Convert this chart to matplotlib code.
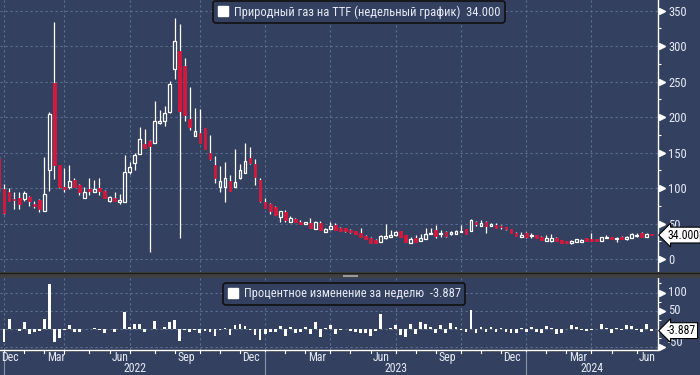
import numpy as np
import pandas as pd
import matplotlib
matplotlib.use("Agg")
import matplotlib.pyplot as plt
from matplotlib import font_manager
from matplotlib.patches import Rectangle, Patch
from matplotlib.lines import Line2D
from matplotlib.transforms import blended_transform_factory

# weekly candles (Friday dates), Dec 24 2021 .. Jun 21 2024
dates = pd.date_range("2021-12-24", "2024-06-21", freq="W-FRI")

opens = [141, 98.6, 94.8, 84, 86.4, 84.5, 87.8, 78.4, 83.6, 68.5, 125, 248, 133, 102, 102, 112, 105,
         86.9, 99, 95.3, 100, 96.2, 82.6, 86.4, 80.8, 81.2, 123.5, 135, 148, 162, 166, 163, 191.5,
         195, 206.6, 267.6, 293, 272, 197.7, 172.8, 177.5, 185, 149, 133, 102, 102, 110, 102, 114,
         122, 142, 134, 112, 81, 77.4, 74, 60, 67, 53, 56.8, 53, 49.2, 50.7, 42.2, 51.6, 39, 42.2,
         48.3, 43.6, 43.6, 41.3, 39.9, 37.5, 33.3, 30.5, 27.2, 24.8, 30.5, 31.9, 34.2, 39.9, 34.2,
         23.4, 29.5, 25.8, 28.1, 35.6, 41.3, 35.2, 39, 35.2, 35.2, 38.5, 42.2, 39.9, 53, 47.4, 53,
         47.4, 48.3, 47.4, 45, 42.7, 37.5, 31.9, 36.6, 32.5, 34.2, 31.9, 26.2, 26.2, 30.5, 27.2,
         25.8, 22.5, 24.8, 24.8, 29.5, 28.6, 28.1, 26.2, 30.5, 31, 28.5, 31.9, 28.6, 30.5, 32.8,
         36.6, 31.9, 35.6]
highs = [145, 106, 100, 94, 94, 96, 89, 82, 84.5, 144, 207, 334, 133, 129, 133, 114, 106,
         101, 114, 112, 114, 97.7, 89, 94.4, 91.5, 147, 136.6, 150, 186, 183, 168, 223, 210,
         216, 251, 339, 331, 283, 242, 212.7, 211, 185, 175, 145.5, 131, 136.6, 118.8, 155, 134,
         163, 158.7, 141, 114, 85.8, 78.8, 75, 68, 69.4, 61.5, 58.6, 55.3, 53, 58.6, 54.4, 54.4,
         44.6, 53, 50.7, 46, 43.6, 42.2, 40, 44.6, 34.2, 31.9, 28.1, 34.2, 49.7, 41.3, 39.9, 40,
         34.5, 31.9, 34.2, 35.6, 44.6, 44.6, 48.3, 41.3, 39.5, 39.5, 41.3, 48.3, 42.5, 56.7, 53.5,
         55.4, 54, 50.7, 50.7, 48.3, 45.5, 43, 37.8, 38.9, 38.9, 36.6, 34.6, 32.2, 34.2, 35.6,
         30.8, 27.5, 26, 26.5, 28.5, 28, 30, 37.5, 28.5, 31.8, 34.2, 31.5, 31.9, 32.5, 32.3, 36.6,
         36.6, 38.9, 37.5, 36]
lows = [95, 64, 82, 71, 71, 82, 75.6, 72.8, 66.7, 68.5, 96.7, 113, 100, 95, 98.6, 102, 90.6,
        86.9, 90.6, 94, 90.6, 86.9, 81, 82, 78, 81, 120, 125.8, 148, 157, 10.8, 163, 191,
        188, 206, 254, 30.5, 195, 182, 172.8, 164, 155, 140, 108, 94.4, 80.3, 96, 101, 112.7,
        121, 134, 105, 80, 72, 63.8, 62, 52, 52, 53, 52.5, 49, 49, 44, 42, 41,
        38.5, 42, 41, 40, 39, 36.6, 35, 31.9, 28.5, 23.2, 22.3, 24.6, 28.1, 31.5, 32.8, 31.5,
        24.6, 23.2, 24.6, 25.6, 28, 35.2, 30.5, 31.9, 31.9, 34.7, 35, 38, 35, 39.5, 46.9,
        47, 37.5, 47, 43.6, 42.7, 41.8, 37, 33, 31.5, 30.5, 29.5, 30, 27, 26, 24.8,
        25.8, 23, 22.9, 22, 24.5, 24.5, 26, 25.5, 25.5, 26, 29.5, 28, 24.8, 28, 27.2, 29.5,
        31.9, 31.5, 31.5, 33.5]
closes = [100, 65, 82.6, 83, 78.4, 93.9, 81.7, 75.6, 70.9, 91.5, 205, 133, 101, 98.6, 110, 102, 94,
          94.4, 96.2, 99, 96.2, 86.9, 88.3, 82.6, 83.6, 122.5, 129.6, 147, 169, 157, 160, 195, 195,
          205.6, 247, 307.5, 208, 203, 186, 180.8, 164, 155, 141, 114, 110, 114, 96.7, 109, 125,
          137.6, 136, 116, 82.6, 72.7, 68, 62.4, 68, 55.3, 58.6, 53, 49.2, 52, 44.6, 53, 41.3,
          42.2, 47, 41.3, 40.3, 40.3, 38, 35.2, 31.9, 28.6, 23.4, 22.5, 32.8, 32.8, 34.2, 38, 31.9,
          24.8, 28.6, 24.8, 30.5, 35.6, 37.5, 33.3, 37.5, 33.3, 38.5, 40.3, 39, 35.6, 55.4, 49.2,
          51.6, 46.9, 49.2, 44.6, 46, 42.2, 37.5, 33.3, 34.2, 31.9, 33.5, 30.5, 27.2, 29.5, 30.5,
          26.2, 23.4, 23.4, 26.2, 28.1, 27.7, 26.2, 25.8, 25.8, 31.4, 31.9, 28.6, 29.5, 28.6, 31.9,
          35.2, 34.2, 31.9, 35.4, 34.0]
# weekly % change
weekly_pct = [-29, -35, 27, 0.5, -5.5, 20, -13, -7.5, -6, 29, 124, -35, -24, -2.4, 11.6, -7.3,
              -7.8, 0.4, 1.9, 2.9, -2.8, -9.7, 1.6, -6.5, 1.2, 46.5, 5.8, 13.4, 15, -7, 1.9,
              21.9, 0, 5.4, 20, 24.5, -32, -2.4, -8.4, -2.8, -9.3, -5.5, -9, -19, -3.5, 3.6,
              -15, 12.7, 14.7, 10, -1.2, -14.7, -28.8, -12, -6.5, -8.2, 9, -18.7, 6, -9.6, -7.2,
              5.7, -14, 18.8, -22, 2.2, 11.4, -12, -2.4, 0, -5.7, -7.4, -9.4, -10, -18, -4, 42,
              0, 4, 11, -16, -22, 15, -13, 20, 15, 5, -11, 12.6, -11, 15.6, 4.7, -3.2, -8.7, 52,
              -11, 5, -9, 5, -9, 3, -8, -11, -11, 3, -7, 5, -9, -11, 8, 3, -14, -11, 0, 12, 7,
              -1, -5, -1.5, 0, 15, 2, -10, 3, -3, 11.5, 10, -3, -7, 15, -3.887]

price_ticks = [0, 50, 100, 150, 200, 250, 300, 350]
pct_ticks = [-50, 0, 50, 100]
quarter_labels = {12: "Dec", 3: "Mar", 6: "Jun", 9: "Sep"}

BG = "#33405f"
GRID = "#5c7096"
TXT = "#e6ebf5"
RED = "#d7163b"

# pick a condensed face if one is installed
fl = font_manager.fontManager.ttflist
names = {f.name for f in fl}
narrow = [n for n in ("Liberation Sans Narrow", "Roboto Condensed", "Open Sans Condensed")
          if n in names]
if narrow:
    plt.rcParams["font.family"] = [narrow[0], "DejaVu Sans"]
    FS, FS_SMALL = 9, 8.5
elif any(f.name == "DejaVu Sans" and f.stretch == "condensed" for f in fl):
    plt.rcParams["font.family"] = ["DejaVu Sans"]
    plt.rcParams["font.stretch"] = "condensed"
    FS, FS_SMALL = 8, 7.5
else:
    plt.rcParams["font.family"] = ["Liberation Sans", "DejaVu Sans"]
    FS, FS_SMALL = 8.5, 8

W, H = 700, 375
def fx(px):
    return px / W
def fy(py):
    return 1 - py / H

x = np.arange(len(dates)) - 1          # candle k=0 is Dec 31 2021
xmin, xmax = -0.817, 130.26

fig = plt.figure(figsize=(7, 3.75), dpi=100, facecolor=BG)
ax1 = fig.add_axes([0, fy(272), fx(658), fy(0) - fy(272)])
ax2 = fig.add_axes([0, fy(349.5), fx(658), fy(278) - fy(349.5)])

# month tick positions: last weekly bar before each month start
months = pd.date_range("2022-01-01", "2024-06-01", freq="MS")
month_k = [int(np.searchsorted(dates, m)) - 2 for m in months]
quarter_k = [k for k, m in zip(month_k, months) if m.month in (1, 4, 7, 10)]

for ax in (ax1, ax2):
    ax.set_facecolor(BG)
    ax.set_xlim(xmin, xmax)
    for s in ("top", "left", "bottom"):
        ax.spines[s].set_visible(False)
    ax.spines["right"].set_color("white")
    ax.spines["right"].set_linewidth(1.0)
    ax.yaxis.tick_right()
    ax.set_xticks([])
    for k in quarter_k:
        ax.axvline(k, color=GRID, lw=0.8, ls=(0, (2, 2.5)), zorder=0)

# ---- candles
for k, o, h, l, c in zip(x, opens, highs, lows, closes):
    ax1.plot([k, k], [l, h], color="white", lw=0.9, zorder=2, solid_capstyle="butt")
    lo, hi = min(o, c), max(o, c)
    hgt = max(hi - lo, 1.3)
    if c >= o:
        ax1.add_patch(Rectangle((k - 0.27, lo), 0.54, hgt, fc=BG, ec="white", lw=0.9, zorder=3))
    else:
        ax1.add_patch(Rectangle((k - 0.27, lo), 0.54, hgt, fc=RED, ec=RED, lw=0.6, zorder=3))

ax1.set_ylim(-18, 365)
for t in price_ticks:
    ax1.axhline(t, color=GRID, lw=0.8, ls=(0, (2, 2.5)), zorder=0)
ax1.set_yticks(price_ticks)
ax1.set_yticks(np.arange(25, 351, 50), minor=True)
ax1.tick_params(axis="y", which="major", length=0, pad=7.5, labelsize=FS, labelcolor=TXT)
ax1.tick_params(axis="y", which="minor", length=2.5, width=0.8, color="white", direction="out")

# ---- weekly % change
ax2.bar(x, weekly_pct, width=0.55, color="white", zorder=2)
ax2.set_ylim(-55.5, 140)
for t in pct_ticks:
    ax2.axhline(t, color=GRID, lw=0.8, ls=(0, (2, 2.5)), zorder=0)
ax2.set_yticks(pct_ticks)
ax2.set_yticklabels([])
ax2.set_yticks([-25, 25, 75, 125], minor=True)
ax2.tick_params(axis="y", which="major", length=0)
ax2.tick_params(axis="y", which="minor", length=2.5, width=0.8, color="white", direction="out")

# arrow-shaped major ticks
for ax, ticks in ((ax1, price_ticks), (ax2, [-50, 50, 100])):
    tr = blended_transform_factory(ax.transAxes, ax.transData)
    ax.plot([1 + 4 / 658] * len(ticks), ticks, ls="none", marker=">", ms=5,
            color="white", transform=tr, clip_on=False, zorder=5)

tr2 = blended_transform_factory(ax2.transAxes, ax2.transData)
for t, yy in ((100, 100), (50, 50), (-50, -36)):
    ax2.text(1 + 10 / 658, yy, str(t), transform=tr2, ha="left", va="center",
             fontsize=FS, color=TXT, clip_on=False)

# last value boxes
tr1 = blended_transform_factory(ax1.transAxes, ax1.transData)
for ax, tr, yy, s in ((ax1, tr1, closes[-1], "34.000"), (ax2, tr2, weekly_pct[-1], "-3.887")):
    ax.text(1 + 9 / 658, yy, s, transform=tr, ha="left", va="center",
            fontsize=FS_SMALL, color="black", zorder=6, clip_on=False,
            bbox=dict(boxstyle="larrow,pad=0.12", fc="white", ec="black", lw=0.8))

# legends
for ax, lab, anchor in ((ax1, "Природный газ на TTF (недельный график)  34.000", (0.5456, 0.997)),
                        (ax2, "Процентное изменение за неделю  -3.887", (0.523, 0.93))):
    leg = ax.legend(handles=[Patch(fc="white", ec="white")], labels=[lab], loc="upper center",
                    bbox_to_anchor=anchor, frameon=True, fancybox=True, facecolor=BG,
                    edgecolor="#111111", framealpha=1, labelcolor=TXT, fontsize=FS,
                    handlelength=0.8, handleheight=0.8, handletextpad=0.5,
                    borderpad=0.35, borderaxespad=0)
    leg.get_frame().set_linewidth(1.2)

# bottom date axis
xt2 = ax2.get_xaxis_transform()
ax2.plot([xmin, xmax], [0, 0], color="white", lw=1.0, transform=xt2, clip_on=False)
for k in month_k:
    ax2.plot([k, k], [0, -0.05], color="white", lw=0.8, transform=xt2, clip_on=False)
ax2.text(xmin + 0.2, -0.115, "Dec", transform=xt2, ha="left", va="center",
         fontsize=FS_SMALL, color=TXT)
for k, m in zip(month_k, months):
    if m.month in quarter_labels and k > 2:
        ax2.text(k + 0.5, -0.115, quarter_labels[m.month], transform=xt2, ha="left",
                 va="center", fontsize=FS_SMALL, color=TXT)
year_k = [k for k, m in zip(month_k, months) if m.month == 1]
edges = year_k + [xmax]
for i, yr in enumerate(["2022", "2023", "2024"]):
    ax2.text((edges[i] + edges[i + 1]) / 2, -0.27, yr, transform=xt2, ha="center",
             va="center", fontsize=FS_SMALL, color=TXT)
    ax2.add_line(Line2D([edges[i], edges[i]], [-0.04, -0.4], color="#8a94a8", lw=0.8,
                        transform=xt2, clip_on=False))

# panel separator
fig.patches.append(Rectangle((0, fy(278)), 1, fy(272) - fy(278), transform=fig.transFigure,
                             fc="#404040", ec="none", zorder=1))
fig.add_artist(Line2D([0, 1], [fy(272.5)] * 2, color="#1e1e1e", lw=1, transform=fig.transFigure))
for yy in (274.6, 276.2):
    fig.add_artist(Line2D([fx(343), fx(357)], [fy(yy)] * 2, color="#9a9a9a", lw=0.8,
                          transform=fig.transFigure))

fig.savefig("out.png", dpi=100, facecolor=BG)
